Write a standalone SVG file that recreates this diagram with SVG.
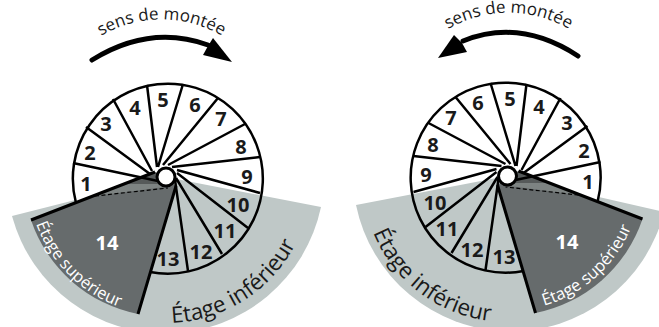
<svg xmlns="http://www.w3.org/2000/svg" xmlns:xlink="http://www.w3.org/1999/xlink" width="659" height="327" viewBox="0 0 659 327">
<style>
text{font-family:"Open Sans","Noto Sans","DejaVu Sans",sans-serif}
.n{font-size:20px;font-weight:700;fill:#1a1a1a;text-anchor:middle}
.w{fill:#fff}
.c{font-size:17px;fill:#1a1a1a;text-anchor:middle}
.big{font-size:22.5px;fill:#1a1a1a;text-anchor:middle}
.sm{font-size:16.5px;fill:#fff;text-anchor:middle}
.sp{stroke:#000;stroke-width:2.5;fill:none}
</style>
<defs>
<path id="pcl" d="M85,47 A120,120 0 0 1 238,47"/>
<path id="pcr" d="M430,42 A120,120 0 0 1 587,42"/>
<path id="pil" d="M140.6,320.8 A146,146 0 0 0 307,214.8"/>
<path id="psl" d="M28.5,189 A138,138 0 0 0 154,314.5"/>
<path id="pir" d="M365.7,209.6 A145,145 0 0 0 514.6,321.8"/>
<path id="psr" d="M511.7,310.9 A134,134 0 0 0 639.7,195.6"/>
<g id="stair">
<path d="M155,172 L76,203 A95,95 0 1 1 260,193 L176,178 Z" fill="#fff"/>
<path d="M31,220 L155,172 L176,186 L138,314 A142,142 0 0 1 31,220 Z" fill="#666b6c"/>
<path d="M95,196 L155,172 L172,186 Z" fill="#7d8382"/>
<path d="M125,184 L155,172 L165,184 Z" fill="#565a5a"/>
<path class="sp" d="M76,203 A95,95 0 1 1 150,272"/>
<path class="sp" d="M73,163L158,181M86,127L150,174M113,99L152,171M147,85L157,167M183,84L158,167M218,98L163,165M245,124L168,165M260,157L172,167M260,193L177,170M248,228L177,173M222,254L176,178M188,271L175,180"/>
<path d="M31,220L155,172M176,186L138,314" stroke="#000" stroke-width="3" fill="none"/>
<path d="M95,196L168,188" stroke="#000" stroke-width="1.2" stroke-dasharray="4 2.5" fill="none"/>
<circle cx="166" cy="177" r="9" fill="#fff" stroke="#000" stroke-width="3"/>
</g>
</defs>
<g id="stair-left">
<path d="M12,216 L166,177 L321,207 A159,159 0 0 1 12,216 Z" fill="#bfc8c7"/>
<use href="#stair" xlink:href="#stair"/>
</g>
<g id="stair-right">
<path d="M356,205 L507,176 L664,212 A158,158 0 0 1 356,205 Z" fill="#bfc8c7"/>
<use href="#stair" xlink:href="#stair" transform="translate(673.5,-1) scale(-1,1)"/>
</g>
<g id="connectors">
<path d="M92,60 Q150,24 208,45" fill="none" stroke="#000" stroke-width="5" stroke-linecap="round"/>
<path d="M213,38 L232,62 L203,55 L208,46 Z" fill="#000"/>
<path d="M578,56 Q520,18 463,41" fill="none" stroke="#000" stroke-width="5" stroke-linecap="round"/>
<path d="M454,35 L438,58 L467,52 L462,43 Z" fill="#000"/>
</g>
<g id="labels-left">
<text class="c"><textPath href="#pcl" xlink:href="#pcl" startOffset="50%">sens de montée</textPath></text>
<text class="big"><textPath href="#pil" xlink:href="#pil" startOffset="50%">Étage inférieur</textPath></text>
<text class="sm"><textPath href="#psl" xlink:href="#psl" startOffset="50%">Étage supérieur</textPath></text>
<text class="n" x="86" y="191">1</text><text class="n" x="90" y="160">2</text><text class="n" x="106" y="131">3</text><text class="n" x="135" y="115">4</text><text class="n" x="163" y="107">5</text><text class="n" x="195" y="112">6</text><text class="n" x="221" y="126">7</text><text class="n" x="241" y="154">8</text><text class="n" x="247" y="184">9</text><text class="n" x="238" y="212">10</text><text class="n" x="225" y="238">11</text><text class="n" x="201" y="259">12</text><text class="n" x="168" y="266">13</text><text class="n w" x="107" y="250">14</text>
</g>
<g id="labels-right">
<text class="c"><textPath href="#pcr" xlink:href="#pcr" startOffset="50%">sens de montée</textPath></text>
<text class="big"><textPath href="#pir" xlink:href="#pir" startOffset="50%">Étage inférieur</textPath></text>
<text class="sm"><textPath href="#psr" xlink:href="#psr" startOffset="50%">Étage supérieur</textPath></text>
<text class="n" x="588" y="189">1</text><text class="n" x="584" y="158">2</text><text class="n" x="567" y="130">3</text><text class="n" x="539" y="114">4</text><text class="n" x="510" y="106">5</text><text class="n" x="478" y="110">6</text><text class="n" x="451" y="125">7</text><text class="n" x="433" y="152">8</text><text class="n" x="426" y="182">9</text><text class="n" x="435" y="210">10</text><text class="n" x="447" y="236">11</text><text class="n" x="472" y="257">12</text><text class="n" x="504" y="264">13</text><text class="n w" x="567" y="249">14</text>
</g>
</svg>
